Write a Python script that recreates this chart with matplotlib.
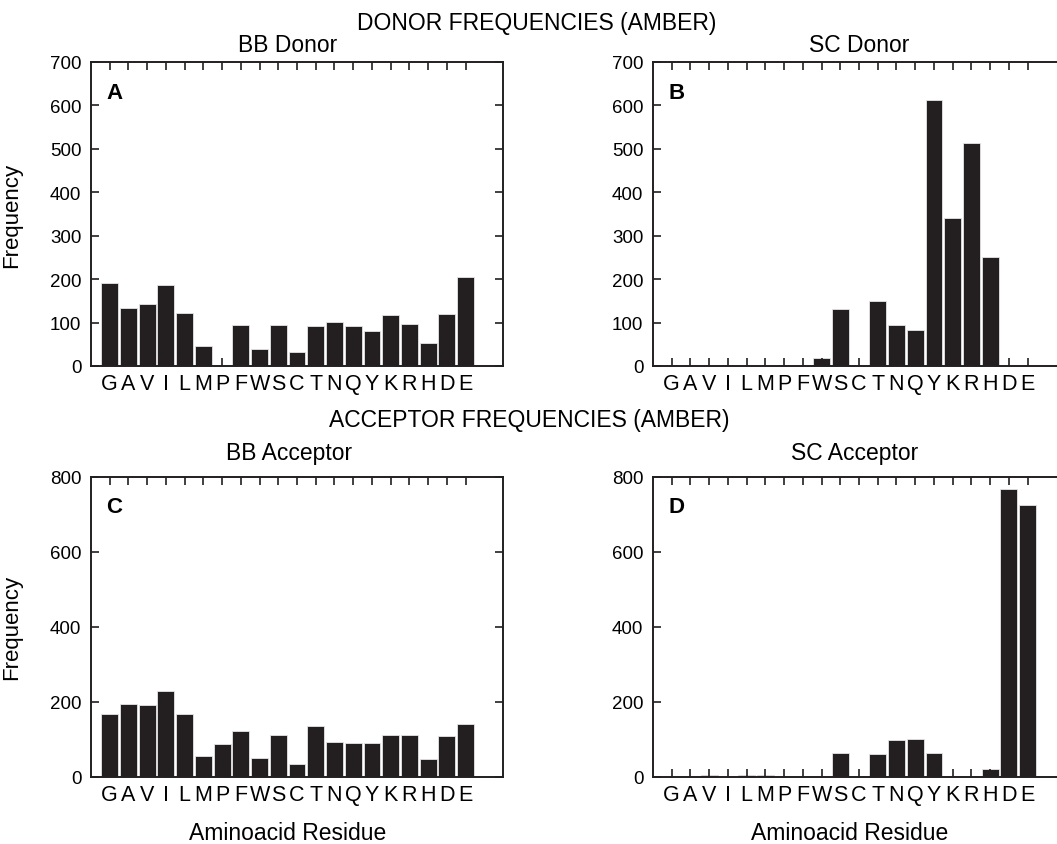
import matplotlib
matplotlib.use("Agg")
import matplotlib.pyplot as plt
import numpy as np

plt.rcParams['font.family'] = ['Liberation Sans', 'DejaVu Sans']

residues = ["G", "A", "V", "I", "L", "M", "P", "F", "W", "S",
            "C", "T", "N", "Q", "Y", "K", "R", "H", "D", "E"]

bb_donor = [192, 133, 142, 187, 123, 47, 0, 95, 38, 95,
            32, 92, 101, 92, 81, 118, 97, 52, 119, 204]
sc_donor = [0, 0, 0, 0, 0, 0, 0, 0, 19, 132,
            0, 150, 95, 82, 613, 340, 514, 251, 0, 0]
bb_acceptor = [167, 195, 191, 230, 167, 55, 87, 122, 51, 112,
               35, 135, 94, 91, 91, 112, 112, 48, 109, 141]
sc_acceptor = [0, 0, 6, 0, 6, 6, 0, 0, 0, 63,
               0, 61, 98, 102, 63, 0, 0, 20, 767, 725]

dark = "#231f20"

fig = plt.figure(figsize=(10.57, 8.45), dpi=100)

# [left, bottom, width, height] in figure fraction
panels = [
    (bb_donor, "BB Donor", "A", [0.0861, 0.5657, 0.3898, 0.3598], 700, 100, 8, 0.478),
    (sc_donor, "SC Donor", "B", [0.6178, 0.5657, 0.3898, 0.3598], 700, 100, 8, 0.50),
    (bb_acceptor, "BB Acceptor", "C", [0.0861, 0.0793, 0.3898, 0.3554], 800, 200, 13, 0.48),
    (sc_acceptor, "SC Acceptor", "D", [0.6178, 0.0793, 0.3898, 0.3554], 800, 200, 13, 0.49),
]

x = np.arange(1, len(residues) + 1)

for i, (vals, title, letter, rect, ymax, ystep, tpad, tx) in enumerate(panels):
    ax = fig.add_axes(rect)
    ax.bar(x, vals, width=0.9, color=dark, edgecolor="#e6e6e6", linewidth=0.6)
    ax.set_xlim(0, 22)
    ax.set_ylim(0, ymax)
    ax.set_xticks(x)
    ax.set_xticklabels(residues, fontsize=15.5)
    ax.set_yticks(np.arange(0, ymax + 1, ystep))
    ax.tick_params(axis="x", direction="in", top=True, length=6, width=1.2,
                   color=dark, pad=5)
    ax.tick_params(axis="y", direction="in", right=True, length=6, width=1.2,
                   color=dark, pad=7, labelsize=13.5)
    for s in ax.spines.values():
        s.set_color(dark)
        s.set_linewidth(1.4)
    ax.set_title(title, fontsize=16.5, pad=tpad, x=tx)
    ax.text(0.037, 0.90, letter, transform=ax.transAxes, fontsize=16,
            fontweight="bold", va="center", ha="left")
    if i % 2 == 0:
        ax.set_ylabel("Frequency", fontsize=16)
        ax.yaxis.set_label_coords(-0.167, 0.5)
    if i >= 2:
        ax.set_xlabel("Aminoacid Residue", fontsize=16.5)
        ax.xaxis.set_label_coords(0.477, -0.148)
        ax.xaxis.label.set_va("top")

fig.text(537 / 1057, 1 - 23.5 / 845, "DONOR FREQUENCIES (AMBER)",
         fontsize=16.5, ha="center", va="center")
fig.text(529 / 1057, 1 - 421 / 845, "ACCEPTOR FREQUENCIES (AMBER)",
         fontsize=16.5, ha="center", va="center")

fig.savefig("out.png", dpi=100)
